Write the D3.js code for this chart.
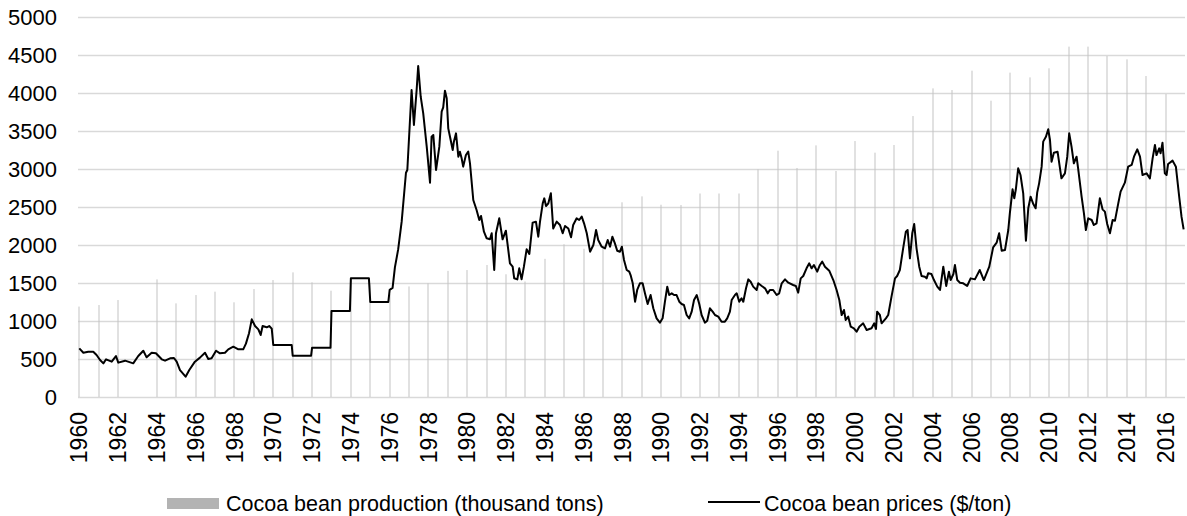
<!DOCTYPE html>
<html>
<head>
<meta charset="utf-8">
<script src="https://cdn.jsdelivr.net/npm/d3@7"></script>
<style>
  body { margin: 0; background: #fff; }
  text { font-family: "Liberation Sans", Arial, sans-serif; fill: #000; }
</style>
</head>
<body>
<script>
// production per year (thousand tons), 1963 missing
var years = d3.range(1960, 2017);
var production = [1190, 1210, 1276, null, 1548, 1232, 1342, 1386, 1246, 1421,
  1539, 1640, 1509, 1399, 1530, 1500, 1350, 1455, 1496, 1660,
  1671, 1737, 1615, 1520, 1818, 2010, 1950, 1990, 2562, 2640,
  2530, 2526, 2678, 2678, 2678, 2996, 3241, 3013, 3311, 2974,
  3368, 3215, 3316, 3697, 4061, 4039, 4294, 3899, 4268, 4206,
  4325, 4610, 4610, 4487, 4443, 4224, 3987];

// price ($/ton), [decimal year, value]
var prices = [
  [1960.00,640],[1960.21,583],[1960.46,596],[1960.72,596],[1960.89,553],[1961.07,487],[1961.24,443],[1961.38,496],
  [1961.67,465],[1961.89,539],[1962.01,452],[1962.36,478],[1962.78,443],[1963.04,539],[1963.30,609],[1963.47,522],
  [1963.73,583],[1963.95,575],[1964.25,496],[1964.42,478],[1964.68,509],[1964.88,513],[1965.02,465],[1965.19,355],
  [1965.48,267],[1965.67,355],[1965.96,465],[1966.22,518],[1966.48,583],[1966.65,500],[1966.82,509],[1967.05,609],
  [1967.25,575],[1967.51,583],[1967.68,627],[1967.94,662],[1968.20,627],[1968.45,627],[1968.59,702],[1968.75,838],
  [1968.89,1022],[1969.06,934],[1969.23,890],[1969.35,816],[1969.45,934],[1969.66,917],[1969.79,934],[1969.92,899],
  [1970.00,684],[1970.95,684],[1971.00,543],[1971.95,543],[1972.00,649],[1972.95,649],[1973.00,1132],[1973.95,1132],
  [1974.00,1561],[1974.93,1561],[1975.00,1250],[1975.93,1250],[1976.00,1410],[1976.15,1435],[1976.27,1705],[1976.44,1945],
  [1976.62,2310],[1976.84,2951],[1976.91,2987],[1977.13,4039],[1977.25,3579],[1977.39,4039],[1977.47,4355],[1977.60,3951],
  [1977.73,3732],[1977.91,3294],[1978.08,2820],[1978.16,3425],[1978.25,3447],[1978.39,2987],[1978.56,3294],[1978.68,3754],
  [1978.76,3811],[1978.85,4031],[1978.94,3930],[1979.02,3535],[1979.11,3425],[1979.25,3250],[1979.31,3360],[1979.42,3469],
  [1979.54,3162],[1979.62,3228],[1979.71,3140],[1979.79,3031],[1979.93,3184],[1980.05,3228],[1980.14,3075],[1980.31,2592],
  [1980.48,2461],[1980.62,2329],[1980.71,2382],[1980.86,2175],[1981.00,2088],[1981.17,2075],[1981.26,2154],[1981.39,1671],
  [1981.48,2154],[1981.65,2351],[1981.82,2075],[1981.99,2188],[1982.20,1759],[1982.34,1715],[1982.42,1562],[1982.58,1548],
  [1982.68,1693],[1982.80,1548],[1982.92,1715],[1983.06,1943],[1983.20,1882],[1983.37,2294],[1983.54,2307],[1983.66,2109],
  [1983.75,2307],[1983.89,2548],[1983.97,2614],[1984.06,2513],[1984.18,2548],[1984.31,2680],[1984.43,2217],[1984.61,2307],
  [1984.78,2263],[1984.92,2154],[1985.04,2250],[1985.21,2217],[1985.35,2101],[1985.46,2263],[1985.64,2351],[1985.77,2329],
  [1985.90,2373],[1986.02,2285],[1986.16,2154],[1986.33,1912],[1986.50,2000],[1986.64,2197],[1986.75,2066],[1986.93,1978],
  [1987.10,1956],[1987.24,2066],[1987.36,1978],[1987.48,2109],[1987.61,2022],[1987.73,1925],[1987.87,1912],[1987.97,1978],
  [1988.08,1803],[1988.22,1671],[1988.35,1649],[1988.42,1605],[1988.53,1496],[1988.65,1254],[1988.76,1408],[1988.90,1496],
  [1989.04,1496],[1989.16,1364],[1989.30,1224],[1989.45,1342],[1989.59,1167],[1989.76,1035],[1989.93,978],[1990.07,1035],
  [1990.19,1254],[1990.31,1452],[1990.41,1342],[1990.54,1364],[1990.66,1342],[1990.79,1342],[1990.93,1254],[1991.05,1224],
  [1991.17,1211],[1991.31,1079],[1991.44,1035],[1991.57,1123],[1991.69,1276],[1991.83,1342],[1991.96,1224],[1992.08,1079],
  [1992.25,978],[1992.37,1004],[1992.51,1167],[1992.65,1123],[1992.77,1079],[1992.94,1057],[1993.11,991],[1993.28,991],
  [1993.40,1035],[1993.54,1123],[1993.63,1276],[1993.80,1342],[1993.89,1364],[1994.02,1254],[1994.14,1298],[1994.23,1254],
  [1994.37,1430],[1994.49,1548],[1994.61,1517],[1994.74,1452],[1994.92,1408],[1995.00,1496],[1995.18,1461],[1995.35,1430],
  [1995.49,1364],[1995.60,1408],[1995.77,1408],[1995.95,1342],[1996.08,1364],[1996.21,1496],[1996.38,1548],[1996.55,1504],
  [1996.80,1474],[1996.94,1461],[1997.06,1373],[1997.19,1561],[1997.32,1592],[1997.49,1693],[1997.63,1759],[1997.75,1693],
  [1997.87,1737],[1998.04,1649],[1998.18,1737],[1998.30,1781],[1998.44,1715],[1998.66,1662],[1998.87,1539],[1999.04,1408],
  [1999.18,1276],[1999.30,1079],[1999.42,1145],[1999.51,1013],[1999.64,1057],[1999.77,925],[1999.93,904],[2000.07,859],
  [2000.21,925],[2000.41,969],[2000.59,882],[2000.84,904],[2000.98,969],[2001.07,895],[2001.13,1123],[2001.27,1079],
  [2001.36,969],[2001.58,1035],[2001.70,1079],[2001.87,1320],[2002.05,1561],[2002.16,1592],[2002.30,1671],[2002.47,1956],
  [2002.61,2175],[2002.70,2197],[2002.82,1825],[2002.94,2154],[2003.04,2276],[2003.16,1956],[2003.30,1715],[2003.42,1592],
  [2003.59,1583],[2003.68,1561],[2003.76,1627],[2003.93,1618],[2004.06,1539],[2004.23,1452],[2004.37,1408],[2004.54,1715],
  [2004.69,1461],[2004.83,1649],[2004.92,1539],[2005.06,1618],[2005.14,1737],[2005.26,1539],[2005.40,1504],[2005.57,1496],
  [2005.77,1461],[2005.95,1561],[2006.17,1548],[2006.42,1671],[2006.63,1539],[2006.91,1715],[2007.11,1969],[2007.29,2031],
  [2007.42,2154],[2007.55,1925],[2007.72,1934],[2007.89,2197],[2007.97,2417],[2008.11,2733],[2008.20,2614],[2008.28,2733],
  [2008.40,3009],[2008.52,2921],[2008.66,2680],[2008.80,2057],[2008.92,2483],[2009.04,2636],[2009.18,2539],[2009.30,2483],
  [2009.38,2689],[2009.48,2811],[2009.61,3031],[2009.69,3360],[2009.83,3425],[2009.95,3522],[2010.04,3382],[2010.12,3096],
  [2010.24,3215],[2010.43,3228],[2010.63,2877],[2010.81,2943],[2010.93,3162],[2011.03,3469],[2011.15,3294],[2011.27,3075],
  [2011.41,3162],[2011.49,3009],[2011.67,2636],[2011.79,2417],[2011.89,2197],[2012.01,2351],[2012.19,2329],[2012.30,2263],
  [2012.44,2285],[2012.61,2614],[2012.75,2469],[2012.87,2439],[2012.99,2276],[2013.13,2154],[2013.27,2329],[2013.39,2320],
  [2013.56,2548],[2013.68,2702],[2013.90,2820],[2014.07,3031],[2014.25,3053],[2014.37,3162],[2014.54,3259],[2014.68,3162],
  [2014.81,2921],[2015.02,2943],[2015.19,2877],[2015.33,3140],[2015.45,3316],[2015.53,3184],[2015.67,3272],[2015.74,3206],
  [2015.84,3346],[2015.96,2943],[2016.05,2921],[2016.13,3066],[2016.36,3110],[2016.53,3031],[2016.70,2636],[2016.82,2373],
  [2016.93,2206]
];

var yTicks = d3.range(0, 5001, 500);
var xLabels = d3.range(1960, 2017, 2);

var width = 1187, height = 516;
var svg = d3.select("body").append("svg")
    .attr("width", width)
    .attr("height", height);

var x = d3.scaleLinear().domain([1960, 2017]).range([79.3, 1185]);
var y = d3.scaleLinear().domain([0, 5000]).range([397, 17]);

// gridlines
svg.append("g").selectAll("line")
    .data(yTicks)
    .enter().append("line")
    .attr("x1", 78)
    .attr("x2", 1185)
    .attr("y1", d => Math.round(y(d)) + 0.5)
    .attr("y2", d => Math.round(y(d)) + 0.5)
    .attr("stroke", "#d9d9d9")
    .attr("stroke-width", 1.3);

// y labels
svg.append("g").selectAll("text")
    .data(yTicks)
    .enter().append("text")
    .attr("x", 57)
    .attr("y", d => y(d))
    .attr("dy", "0.35em")
    .attr("text-anchor", "end")
    .style("font-size", "22px")
    .text(d => d);

// production bars (thin)
var prod = years.map((yr, i) => ({year: yr, value: production[i]})).filter(d => d.value != null);
svg.append("g").selectAll("rect")
    .data(prod)
    .enter().append("rect")
    .attr("x", d => Math.round(x(d.year)) - 0.5)
    .attr("width", 1)
    .attr("y", d => y(d.value))
    .attr("height", d => y(0) - y(d.value))
    .attr("fill", "#c4c4c4");

// x labels
svg.append("g").selectAll("text")
    .data(xLabels)
    .enter().append("text")
    .attr("transform", d => "translate(" + x(d) + ",412) rotate(-90)")
    .attr("dy", "0.35em")
    .attr("text-anchor", "end")
    .style("font-size", "23px")
    .text(d => d);

// price line
var line = d3.line()
    .x(d => x(d[0]))
    .y(d => y(d[1]));

svg.append("path")
    .datum(prices)
    .attr("fill", "none")
    .attr("stroke", "#000")
    .attr("stroke-width", 2)
    .attr("stroke-linejoin", "round")
    .attr("d", line);

// legend
var leg = svg.append("g");
leg.append("rect")
    .attr("x", 167).attr("y", 498)
    .attr("width", 52).attr("height", 11)
    .attr("fill", "#b3b3b3");
leg.append("text")
    .attr("x", 226).attr("y", 503)
    .attr("dy", "0.35em")
    .style("font-size", "21.5px")
    .text("Cocoa bean production (thousand tons)");
leg.append("line")
    .attr("x1", 708).attr("x2", 760)
    .attr("y1", 502).attr("y2", 502)
    .attr("stroke", "#000")
    .attr("stroke-width", 2);
leg.append("text")
    .attr("x", 764).attr("y", 503)
    .attr("dy", "0.35em")
    .style("font-size", "21.5px")
    .text("Cocoa bean prices ($/ton)");
</script>
</body>
</html>
